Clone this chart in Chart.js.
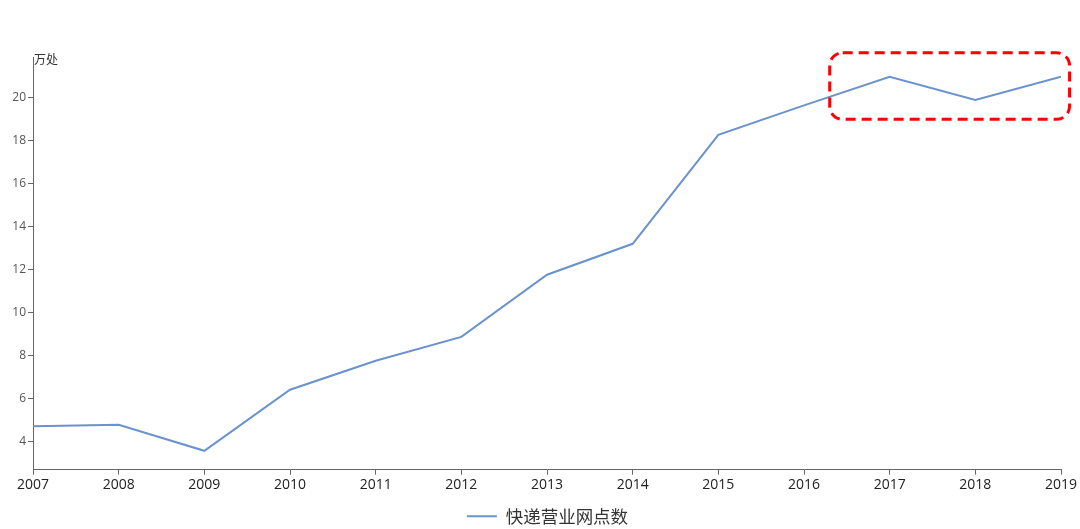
<!DOCTYPE html>
<html>
<head>
<meta charset="utf-8">
<script src="https://cdn.jsdelivr.net/npm/chart.js@4"></script>
<style>
    html, body { margin: 0; padding: 0; background: #fff; }
    #wrap { width: 1080px; height: 529px; }
</style>
</head>
<body>
<div id="wrap"><canvas id="netChart"></canvas></div>
<script>
// 快递营业网点数 (万处)
var years = [2007, 2008, 2009, 2010, 2011, 2012, 2013, 2014, 2015, 2016, 2017, 2018, 2019];
var outlets = [4.72, 4.79, 3.58, 6.42, 7.77, 8.88, 11.77, 13.21, 18.28, 19.65, 20.98, 19.9, 20.98];
var yTicks = [4, 6, 8, 10, 12, 14, 16, 18, 20];
var highlight = [2016.3, 2019.1, 22.1, 19.0]; // x from, x to, y top, y bottom

var font = '"Noto Sans CJK SC", "Noto Sans", sans-serif';
var numFont = '"Open Sans", "Noto Sans", sans-serif';

// unit label + red dashed box, legend nudged right
var extras = {
    id: 'extras',
    afterLayout: function (chart) {
        chart.legend.left += 17;
        chart.legend.right += 17;
    },
    afterDraw: function (chart) {
        var ctx = chart.ctx;
        var x = chart.scales.x, y = chart.scales.y;
        ctx.save();
        ctx.fillStyle = '#333';
        ctx.font = '12px ' + font;
        ctx.textAlign = 'left';
        ctx.textBaseline = 'middle';
        ctx.fillText('万处', x.left + 1, y.top + 2);

        var x1 = x.getPixelForValue(highlight[0]), x2 = x.getPixelForValue(highlight[1]);
        var y1 = y.getPixelForValue(highlight[2]), y2 = y.getPixelForValue(highlight[3]);
        ctx.strokeStyle = '#ff0000';
        ctx.lineWidth = 3;
        ctx.setLineDash([10, 6]);
        ctx.beginPath();
        ctx.roundRect(x1, y1, x2 - x1, y2 - y1, 13);
        ctx.stroke();
        ctx.restore();
    }
};

var ctx = document.getElementById('netChart').getContext('2d');
var chart = new Chart(ctx, {
    type: 'line',
    data: {
        datasets: [{
            label: '快递营业网点数',
            data: years.map(function (yr, i) { return {x: yr, y: outlets[i]}; }),
            borderColor: '#6a93cd',
            backgroundColor: '#6a93cd',
            borderWidth: 2,
            pointRadius: 0,
            tension: 0
        }]
    },
    options: {
        responsive: true,
        maintainAspectRatio: false,
        animation: false,
        layout: {padding: {left: 0, right: 19, top: 57, bottom: -6}},
        plugins: {
            tooltip: {enabled: false},
            legend: {
                position: 'bottom',
                labels: {
                    usePointStyle: true,
                    pointStyle: 'line',
                    pointStyleWidth: 30,
                    color: '#333',
                    font: {family: font, size: 17.5},
                    padding: 2
                }
            }
        },
        scales: {
            x: {
                type: 'linear',
                min: 2007,
                max: 2019,
                afterBuildTicks: function (axis) {
                    axis.ticks = years.map(function (v) { return {value: v}; });
                },
                afterFit: function (axis) { axis.height += 10; },
                ticks: {
                    color: '#222',
                    font: {family: numFont, size: 14},
                    padding: 2,
                    maxRotation: 0,
                    autoSkip: false,
                    callback: function (v) { return String(v); }
                },
                grid: {drawOnChartArea: false, color: '#666', tickLength: 5},
                border: {color: '#666', width: 1}
            },
            y: {
                min: 2.7,
                max: 21.9,
                afterBuildTicks: function (axis) {
                    axis.ticks = yTicks.map(function (v) { return {value: v}; });
                },
                afterFit: function (axis) { axis.width = 33; },
                ticks: {
                    color: '#555',
                    font: {family: numFont, size: 12},
                    padding: 2
                },
                grid: {drawOnChartArea: false, color: '#666', tickLength: 5},
                border: {color: '#666', width: 1}
            }
        }
    },
    plugins: [extras]
});
</script>
</body>
</html>
